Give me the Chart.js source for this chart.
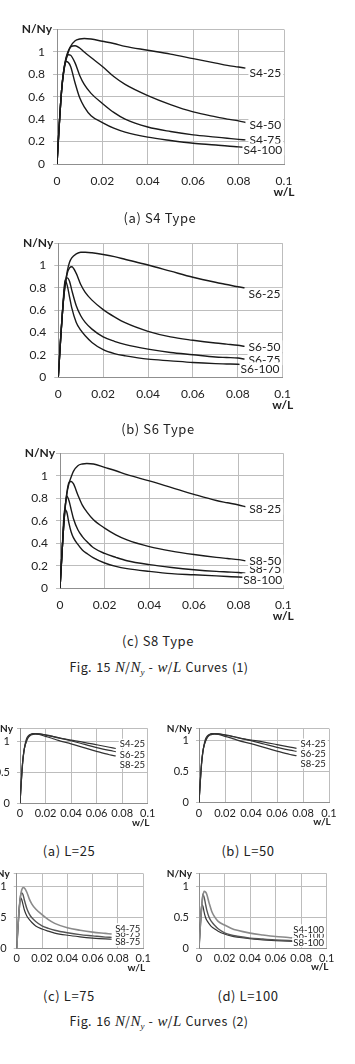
<!DOCTYPE html>
<html>
<head>
<meta charset="utf-8">
<script src="https://cdn.jsdelivr.net/npm/chart.js@4.4.1/dist/chart.umd.min.js"></script>
<style>
body{margin:0;background:#fff;}
#page{position:relative;width:355px;height:1064px;overflow:hidden;background:#fff;}
.box{position:absolute;}
.cap{position:absolute;transform:translateX(-50%);white-space:nowrap;font-family:"Noto Sans CJK KR",sans-serif;font-size:13px;line-height:16px;color:#222;letter-spacing:0.6px;}
.cap.fig{letter-spacing:0.4px;font-size:12.5px;word-spacing:1px;}
.cap i{font-family:"Liberation Serif",serif;font-size:15px;letter-spacing:0;}
.cap sub{font-size:9px;vertical-align:-3px;line-height:0;}
</style>
</head>
<body>
<div id="page">
  <div class="box" id="b1"><canvas id="c1"></canvas></div>
  <div class="box" id="b2"><canvas id="c2"></canvas></div>
  <div class="box" id="b3"><canvas id="c3"></canvas></div>
  <div class="box" id="b4"><canvas id="c4"></canvas></div>
  <div class="box" id="b5"><canvas id="c5"></canvas></div>
  <div class="box" id="b6"><canvas id="c6"></canvas></div>
  <div class="box" id="b7"><canvas id="c7"></canvas></div>

  <div class="cap" style="left:160px;top:210px">(a) S4 Type</div>
  <div class="cap" style="left:158px;top:421px">(b) S6 Type</div>
  <div class="cap" style="left:158px;top:633px">(c) S8 Type</div>
  <div class="cap fig" style="left:159px;top:659px">Fig. 15 <i>N</i>/<i>N<sub>y</sub></i> - <i>w</i>/<i>L</i> Curves (1)</div>
  <div class="cap" style="left:69px;top:843px">(a) L=25</div>
  <div class="cap" style="left:248px;top:843px">(b) L=50</div>
  <div class="cap" style="left:69px;top:988px">(c) L=75</div>
  <div class="cap" style="left:248px;top:988px">(d) L=100</div>
  <div class="cap fig" style="left:159px;top:1013px">Fig. 16 <i>N</i>/<i>N<sub>y</sub></i> - <i>w</i>/<i>L</i> Curves (2)</div>
</div>
<script>
// w/L sample points shared by every curve
const wL = [0, 0.001, 0.002, 0.003, 0.004, 0.005, 0.006, 0.008, 0.01, 0.012, 0.015, 0.02, 0.025, 0.03, 0.04, 0.05, 0.06, 0.07, 0.075, 0.08, 0.083];

// N/Ny values
const s4_25  = [0, 0.35, 0.65, 0.83, 0.93, 1.0, 1.05, 1.10, 1.115, 1.12, 1.115, 1.095, 1.075, 1.05, 1.015, 0.98, 0.94, 0.90, 0.88, 0.865, 0.855];
const s4_50  = [0, 0.35, 0.65, 0.84, 0.95, 1.01, 1.045, 1.055, 1.035, 1.0, 0.95, 0.87, 0.78, 0.71, 0.61, 0.53, 0.465, 0.42, 0.40, 0.385, 0.37];
const s4_75  = [0, 0.35, 0.65, 0.84, 0.94, 0.975, 0.97, 0.90, 0.79, 0.71, 0.63, 0.54, 0.46, 0.40, 0.33, 0.29, 0.26, 0.24, 0.23, 0.22, 0.215];
const s4_100 = [0, 0.35, 0.65, 0.83, 0.915, 0.905, 0.87, 0.72, 0.59, 0.51, 0.43, 0.37, 0.32, 0.285, 0.24, 0.21, 0.185, 0.17, 0.16, 0.153, 0.148];

const s6_25  = [0, 0.33, 0.62, 0.82, 0.95, 1.03, 1.07, 1.105, 1.12, 1.12, 1.115, 1.10, 1.08, 1.055, 1.005, 0.95, 0.895, 0.85, 0.83, 0.81, 0.80];
const s6_50  = [0, 0.33, 0.62, 0.82, 0.93, 0.98, 0.99, 0.93, 0.83, 0.76, 0.69, 0.605, 0.54, 0.485, 0.41, 0.36, 0.33, 0.305, 0.295, 0.285, 0.275];
const s6_75  = [0, 0.33, 0.62, 0.84, 0.89, 0.86, 0.78, 0.64, 0.55, 0.49, 0.43, 0.36, 0.32, 0.29, 0.25, 0.22, 0.20, 0.18, 0.175, 0.17, 0.16];
const s6_100 = [0, 0.33, 0.62, 0.87, 0.82, 0.72, 0.62, 0.49, 0.42, 0.37, 0.31, 0.245, 0.21, 0.19, 0.16, 0.145, 0.13, 0.12, 0.117, 0.114, 0.11];

const s8_25  = [0, 0.35, 0.65, 0.83, 0.93, 0.99, 1.04, 1.09, 1.105, 1.11, 1.105, 1.075, 1.045, 1.01, 0.955, 0.895, 0.835, 0.78, 0.76, 0.74, 0.725];
const s8_50  = [0, 0.35, 0.65, 0.84, 0.94, 0.95, 0.93, 0.83, 0.74, 0.68, 0.61, 0.535, 0.475, 0.43, 0.37, 0.33, 0.30, 0.275, 0.265, 0.255, 0.245];
const s8_75  = [0, 0.35, 0.65, 0.82, 0.78, 0.70, 0.62, 0.52, 0.46, 0.415, 0.36, 0.31, 0.275, 0.245, 0.21, 0.185, 0.165, 0.15, 0.145, 0.14, 0.135];
const s8_100 = [0, 0.35, 0.70, 0.68, 0.58, 0.50, 0.45, 0.39, 0.34, 0.31, 0.27, 0.225, 0.195, 0.175, 0.15, 0.13, 0.12, 0.11, 0.105, 0.10, 0.098];

// tick labels
const xTicks = [0, 0.02, 0.04, 0.06, 0.08, 0.1];
const yTicksBig = [0, 0.2, 0.4, 0.6, 0.8, 1, 1.2];
const yTicksSmall = [0, 0.5, 1, 1.2];

// series labels drawn at the curve ends + axis titles
const endLabels = {
  id: 'endLabels',
  afterDatasetsDraw(chart, args, o) {
    const ctx = chart.ctx, ca = chart.chartArea;
    const n = chart.data.datasets.length;
    const order = [n - 2];
    for (let i = 0; i < n; i++) if (i !== n - 2) order.push(i);
    ctx.save();
    ctx.font = o.lab + 'px Lato';
    ctx.textBaseline = 'middle';
    ctx.textAlign = 'left';
    order.forEach(i => {
      const ds = chart.data.datasets[i];
      const pts = chart.getDatasetMeta(i).data;
      const p = pts[pts.length - 1];
      const x = p.x + ds.shift[0], y = p.y + ds.shift[1];
      const w = ctx.measureText(ds.label).width;
      ctx.fillStyle = '#fff';
      ctx.fillRect(x - 1, y - o.lab * 0.5, w + 3, o.lab);
      ctx.fillStyle = '#222';
      ctx.fillText(ds.label, x, y + 0.5);
    });
    ctx.font = 'bold ' + o.title + 'px Lato';
    ctx.textAlign = 'right';
    ctx.fillText('N/Ny', ca.left - o.yGap, ca.top);
    ctx.textAlign = 'center';
    ctx.fillText('w/L', ca.right - o.xShift, ca.bottom + o.xDrop);
    ctx.restore();
  }
};

const big = {tick: 12, lab: 12, title: 12, tickLen: 4, yPad: 8, xPad: 10, yGap: 5, xShift: 0, xDrop: 28, yTicks: yTicksBig};
const small = {tick: 11, lab: 9.5, title: 10, tickLen: 3, yPad: 7, xPad: 4, yGap: 7, xShift: 7, xDrop: 19, yTicks: yTicksSmall};

function plot(id, box, area, rows, last, look) {
  const wrap = document.getElementById('b' + id);
  wrap.style.left = box[0] + 'px';
  wrap.style.top = box[1] + 'px';
  wrap.style.width = box[2] + 'px';
  wrap.style.height = box[3] + 'px';
  const datasets = rows.map(r => ({
    label: r.label,
    data: wL.map((x, i) => ({x: x, y: r.values[i]})).filter(p => p.x <= last + 1e-9),
    borderColor: r.color || '#1a1a1a',
    borderWidth: r.width || 1.4,
    pointRadius: 0,
    cubicInterpolationMode: 'monotone',
    fill: false,
    shift: r.shift
  }));
  new Chart(document.getElementById('c' + id), {
    type: 'line',
    data: {datasets: datasets},
    options: {
      responsive: true,
      maintainAspectRatio: false,
      animation: false,
      layout: {padding: {left: 0, bottom: 0, top: area[1] - box[1], right: box[0] + box[2] - area[2]}},
      plugins: {legend: {display: false}, tooltip: {enabled: false}, endLabels: look},
      scales: {
        x: {
          type: 'linear', min: 0, max: 0.1,
          afterBuildTicks: s => { s.ticks = xTicks.map(v => ({value: v})); },
          afterFit: s => { s.height = box[1] + box[3] - area[3]; },
          grid: {color: '#bdbdbd', drawTicks: false},
          border: {color: '#8f8f8f'},
          ticks: {font: {family: 'Lato', size: look.tick}, color: '#222', padding: look.xPad,
                  maxRotation: 0, autoSkip: false, callback: v => String(v)}
        },
        y: {
          type: 'linear', min: 0, max: 1.2,
          afterBuildTicks: s => { s.ticks = look.yTicks.map(v => ({value: v})); },
          afterFit: s => { s.width = area[0] - box[0]; },
          grid: {color: '#bdbdbd', tickLength: look.tickLen},
          border: {color: '#8f8f8f'},
          ticks: {font: {family: 'Lato', size: look.tick}, color: '#222', padding: look.yPad,
                  autoSkip: false, callback: v => v === 1.2 ? '' : String(v)}
        }
      }
    },
    plugins: [endLabels]
  });
}

const grey = '#8a8a8a';

plot(1, [0, 0, 310, 205], [57, 29.5, 284, 164], [
  {label: 'S4-25', values: s4_25, shift: [4, 4]},
  {label: 'S4-50', values: s4_50, shift: [4, 2]},
  {label: 'S4-75', values: s4_75, shift: [4, 0]},
  {label: 'S4-100', values: s4_100, shift: [-2, 2]}
], 0.083, big);

plot(2, [0, 225, 310, 190], [58.3, 243.3, 282.7, 377], [
  {label: 'S6-25', values: s6_25, shift: [4, 6]},
  {label: 'S6-50', values: s6_50, shift: [4, 0]},
  {label: 'S6-75', values: s6_75, shift: [4, 0]},
  {label: 'S6-100', values: s6_100, shift: [-4, 3.5]}
], 0.083, big);

plot(3, [0, 435, 310, 190], [60, 453.3, 283.3, 588.3], [
  {label: 'S8-25', values: s8_25, shift: [4, 2]},
  {label: 'S8-50', values: s8_50, shift: [4, 0]},
  {label: 'S8-75', values: s8_75, shift: [4, -4]},
  {label: 'S8-100', values: s8_100, shift: [-2, 2]}
], 0.083, big);

plot(4, [-20, 715, 180, 115], [20, 728.5, 147.7, 803.3], [
  {label: 'S4-25', values: s4_25, shift: [4, -5], color: '#333', width: 1.2},
  {label: 'S6-25', values: s6_25, shift: [4, 2.5], color: '#333', width: 1.2},
  {label: 'S8-25', values: s8_25, shift: [4, 8], color: '#333', width: 1.2}
], 0.075, small);

plot(5, [160, 715, 190, 115], [199, 728, 329, 802.5], [
  {label: 'S4-25', values: s4_25, shift: [4, -5], color: '#333', width: 1.2},
  {label: 'S6-25', values: s6_25, shift: [4, 2.5], color: '#333', width: 1.2},
  {label: 'S8-25', values: s8_25, shift: [4, 8], color: '#333', width: 1.2}
], 0.075, small);

plot(6, [-20, 860, 180, 120], [16.7, 872.7, 143.3, 948.3], [
  {label: 'S4-75', values: s4_75, shift: [3.5, -6], color: grey, width: 1.6},
  {label: 'S6-75', values: s6_75, shift: [3.5, -3.5], color: '#555', width: 1.4},
  {label: 'S8-75', values: s8_75, shift: [3.5, 2.5], color: '#333', width: 1.2}
], 0.075, small);

plot(7, [160, 860, 190, 120], [199, 872.7, 326.7, 948], [
  {label: 'S4-100', values: s4_100, shift: [-1.5, -9], color: grey, width: 1.6},
  {label: 'S6-100', values: s6_100, shift: [-1.5, -5], color: '#555', width: 1.4},
  {label: 'S8-100', values: s8_100, shift: [-1.5, 1], color: '#333', width: 1.2}
], 0.075, small);
</script>
</body>
</html>
